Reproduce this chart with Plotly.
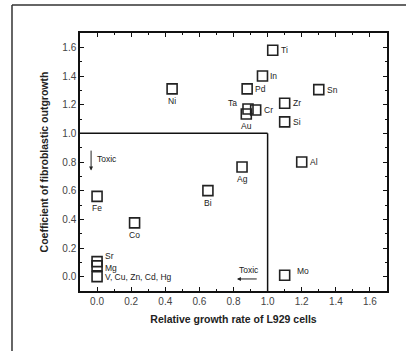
import plotly.graph_objects as go

# Data
elements = ["Ti", "In", "Pd", "Sn", "Ni", "Zr", "Ta", "Cr", "Au", "Si", "Al", "Ag", "Bi",
            "Fe", "Co", "Sr", "Mg", "V, Cu, Zn, Cd, Hg", "Mo"]
growth_rate = [1.03, 0.97, 0.88, 1.30, 0.44, 1.10, 0.885, 0.93, 0.875, 1.10, 1.20, 0.85, 0.65,
               0.0, 0.22, 0.0, 0.0, 0.0, 1.10]
outgrowth = [1.58, 1.40, 1.31, 1.305, 1.31, 1.21, 1.17, 1.163, 1.135, 1.08, 0.80, 0.765, 0.60,
             0.56, 0.375, 0.105, 0.075, 0.0, 0.01]
# label placement: side of marker ("R" right, "B" below, "TL" top-left, "TR" top-right, "RL" right-low)
label_side = ["R", "R", "R", "R", "B", "R", "TL", "R", "B", "R", "R", "B", "B",
              "B", "B", "TR", "RL", "R", "TR"]
tick_vals = [0.0, 0.2, 0.4, 0.6, 0.8, 1.0, 1.2, 1.4, 1.6]
tick_text = ["0.0", "0.2", "0.4", "0.6", "0.8", "1.0", "1.2", "1.4", "1.6"]

FONT = "Liberation Sans, Arial, sans-serif"
LABEL_FONT = dict(family=FONT, size=8.5, color="#222")

fig = go.Figure()
fig.add_trace(go.Scatter(
    x=growth_rate, y=outgrowth, mode="markers",
    marker=dict(symbol="square-open", size=10, color="#222", line=dict(width=1.6, color="#222")),
    showlegend=False, cliponaxis=False, hoverinfo="skip",
))

placement = {
    "R": dict(xanchor="left", yanchor="middle", xshift=6, yshift=0),
    "RL": dict(xanchor="left", yanchor="middle", xshift=6, yshift=-2.5),
    "B": dict(xanchor="center", yanchor="middle", xshift=0, yshift=-12),
    "TL": dict(xanchor="right", yanchor="middle", xshift=-9, yshift=6),
    "TR": dict(xanchor="left", yanchor="middle", xshift=6, yshift=6),
}
for name, xv, yv, side in zip(elements, growth_rate, outgrowth, label_side):
    p = dict(placement[side])
    if name == "Mo":
        p["xshift"] = 10
        p["yshift"] = 4
    fig.add_annotation(x=xv, y=yv, xref="x", yref="y", text=name, showarrow=False,
                       font=LABEL_FONT, **p)

axis_common = dict(
    showgrid=False, zeroline=False, showline=True, linecolor="#111", linewidth=1.5,
    mirror="allticks", ticks="inside", ticklen=4, tickwidth=1, tickcolor="#111",
    tickvals=tick_vals, ticktext=tick_text,
    tickfont=dict(family=FONT, size=10, color="#444"),
    minor=dict(dtick=0.1, tick0=0, ticks="inside", ticklen=2.5, tickwidth=1, tickcolor="#111"),
    range=[-0.1, 1.7],
)

fig.update_xaxes(**axis_common,
                 title=dict(text="<b>Relative growth rate of L929 cells</b>", standoff=10,
                            font=dict(family=FONT, size=10.5, color="#222")))
fig.update_yaxes(**axis_common,
                 title=dict(text="<b>Coefficient of fibroblastic outgrowth</b>", standoff=12,
                            font=dict(family=FONT, size=10.5, color="#222")))

# box lines (toxic region)
fig.add_shape(type="line", x0=-0.1, y0=1.0, x1=1.0, y1=1.0, xref="x", yref="y",
              line=dict(color="#111", width=1.5))
fig.add_shape(type="line", x0=1.0, y0=-0.1, x1=1.0, y1=1.0, xref="x", yref="y",
              line=dict(color="#111", width=1.5))

# outer frame (left & top)
fig.add_shape(type="line", x0=-0.2215, y0=-0.3, x1=-0.2215, y1=1.1085, xref="paper", yref="paper",
              line=dict(color="#333", width=1.5))
fig.add_shape(type="line", x0=-0.2215, y0=1.1085, x1=1.2, y1=1.1085, xref="paper", yref="paper",
              line=dict(color="#333", width=1.5))

# arrows
fig.add_annotation(x=-0.035, y=0.74, ax=-0.035, ay=0.89, xref="x", yref="y", axref="x", ayref="y",
                   showarrow=True, arrowhead=2, arrowsize=0.8, arrowwidth=1, arrowcolor="#222", text="")
fig.add_annotation(x=-0.012, y=0.82, xref="x", yref="y", text="Toxic", showarrow=False,
                   xanchor="left", font=LABEL_FONT)
fig.add_annotation(x=0.82, y=-0.016, ax=0.945, ay=-0.016, xref="x", yref="y", axref="x", ayref="y",
                   showarrow=True, arrowhead=2, arrowsize=0.8, arrowwidth=1, arrowcolor="#222", text="")
fig.add_annotation(x=0.89, y=0.05, xref="x", yref="y", text="Toxic", showarrow=False,
                   font=LABEL_FONT)

fig.update_layout(
    width=406, height=351,
    margin=dict(l=80, r=19, t=33, b=60),
    paper_bgcolor="white", plot_bgcolor="white",
)

fig.write_html("out.html")
